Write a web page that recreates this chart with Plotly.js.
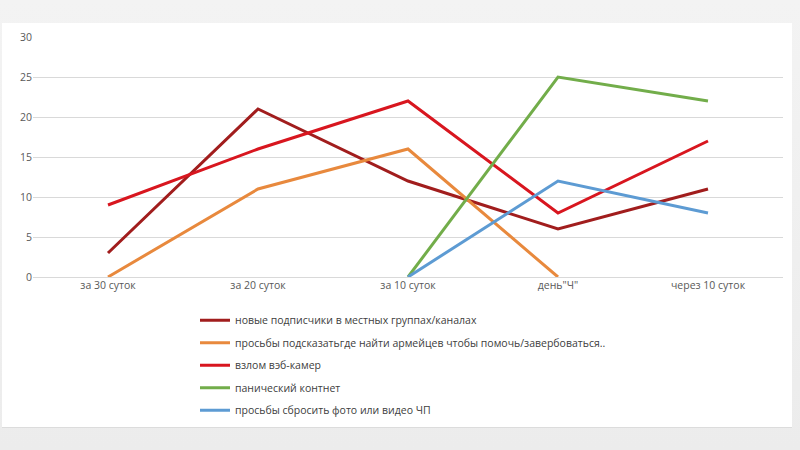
<!DOCTYPE html>
<html>
<head>
<meta charset="utf-8">
<script src="https://cdn.plot.ly/plotly-3.0.1.min.js"></script>
<style>
  html, body { margin: 0; padding: 0; width: 800px; height: 450px; overflow: hidden;
    background: linear-gradient(#f3f3f3, #ececec); }
  #card { position: absolute; left: 2px; top: 23px; width: 790px; height: 404px;
    background: #ffffff; border-bottom: 1px solid #dcdcdc; }
  #chart { position: absolute; left: 0; top: 0; width: 800px; height: 450px; }
</style>
</head>
<body>
<div id="card"></div>
<div id="chart"></div>
<script>
// categories on the x axis
var periods = ['за 30 суток', 'за 20 суток', 'за 10 суток', 'день"Ч"', 'через 10 суток'];

// series values (null = no point)
var subscribers = [3, 21, 12, 6, 11];
var armyHelp    = [0, 11, 16, 0, null];
var webcams     = [9, 16, 22, 8, 17];
var panic       = [null, null, 0, 25, 22];
var photoVideo  = [null, null, 0, 12, 8];

var names = [
    'новые подписчики в местных группах/каналах',
    'просьбы подсказатьгде найти армейцев чтобы помочь/завербоваться..',
    'взлом вэб-камер',
    'панический контнет',
    'просьбы сбросить фото или видео ЧП'
];
var series = [subscribers, armyHelp, webcams, panic, photoVideo];
var colors = ['#a11d1d', '#e8893d', '#d8161f', '#72ad4a', '#5d9bd3'];

var data = series.map(function (vals, i) {
    return {
        x: periods,
        y: vals,
        type: 'scatter',
        mode: 'lines',
        name: names[i],
        legendgroup: 'g' + i,
        line: { color: colors[i], width: 3 },
        connectgaps: false
    };
});

var layout = {
    width: 800,
    height: 450,
    margin: { l: 33, r: 17, t: 37, b: 173 },
    paper_bgcolor: 'rgba(0,0,0,0)',
    plot_bgcolor: 'rgba(0,0,0,0)',
    font: { family: 'Open Sans, sans-serif', size: 11, color: '#595959' },
    showlegend: true,
    legend: {
        orientation: 'v',
        x: 0.216, xanchor: 'left',
        y: -0.12, yanchor: 'top',
        tracegroupgap: 3.5,
        font: { size: 10.5, color: '#404040' },
        bgcolor: 'rgba(0,0,0,0)'
    },
    xaxis: {
        type: 'category',
        range: [-0.5, 4.5],
        showgrid: false,
        showline: false,
        zeroline: false,
        ticks: '',
        tickfont: { size: 10.5, color: '#595959' }
    },
    yaxis: {
        range: [0, 30],
        dtick: 5,
        showgrid: true,
        gridcolor: '#d9d9d9',
        gridwidth: 1,
        zeroline: true,
        zerolinecolor: '#d9d9d9',
        zerolinewidth: 1,
        showline: false,
        ticks: '',
        tickfont: { size: 10.5, color: '#595959' }
    }
};

Plotly.newPlot('chart', data, layout, { displayModeBar: false, staticPlot: true });
</script>
</body>
</html>
